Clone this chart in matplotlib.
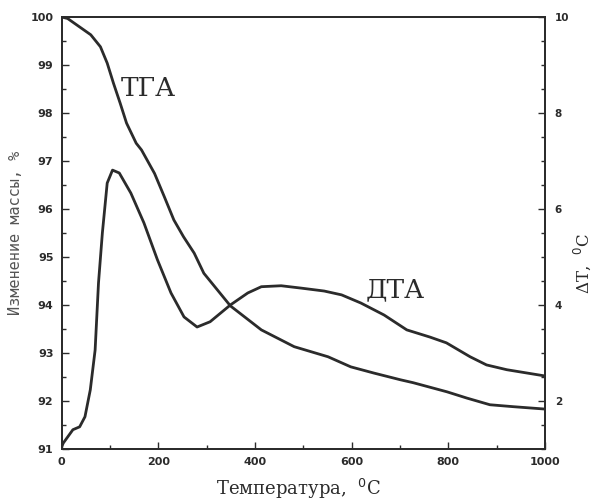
import matplotlib.pyplot as plt
from matplotlib.ticker import MultipleLocator

# TGA: mass change, %
tga_t = [0, 12, 36, 60, 80, 94, 107, 121, 134, 154, 165, 192, 212, 232, 252,
         274, 294, 349, 413, 481, 551, 598, 646, 701, 727, 797, 838, 886, 934,
         1000]
tga_m = [100.0, 99.97, 99.8, 99.63, 99.38, 99.04, 98.62, 98.2, 97.79, 97.37,
         97.23, 96.74, 96.26, 95.77, 95.42, 95.08, 94.66, 93.98, 93.48, 93.13,
         92.92, 92.71, 92.58, 92.44, 92.38, 92.19, 92.06, 91.92, 91.88, 91.83]

# DTA: delta T, deg C
dta_t = [0, 3, 23, 37, 48, 59, 69, 76, 84, 94, 105, 119, 143, 170, 198, 226,
         253, 280, 307, 349, 385, 413, 454, 496, 543, 579, 619, 667, 714, 762,
         796, 845, 879, 921, 1000]
dta_v = [1.05, 1.12, 1.40, 1.46, 1.67, 2.23, 3.06, 4.46, 5.5, 6.54, 6.81, 6.75,
         6.33, 5.71, 4.94, 4.25, 3.75, 3.54, 3.65, 4.0, 4.25, 4.38, 4.40, 4.35,
         4.29, 4.21, 4.04, 3.79, 3.48, 3.33, 3.21, 2.92, 2.75, 2.65, 2.52]

ink = '#2b2b2b'
serif = ['DejaVu Serif']
mono = ['DejaVu Sans Mono']

fig = plt.figure(figsize=(5.94, 5.01), dpi=100)
ax = fig.add_axes([0.104, 0.104, 0.8135, 0.862])
ax2 = ax.twinx()

ax.plot(tga_t, tga_m, color=ink, lw=2)
ax2.plot(dta_t, dta_v, color=ink, lw=2)

ax.set_xlim(0, 1000)
ax.set_ylim(91, 100)
ax2.set_ylim(1, 10)

ax.xaxis.set_major_locator(MultipleLocator(200))
ax.xaxis.set_minor_locator(MultipleLocator(100))
ax.yaxis.set_major_locator(MultipleLocator(1))
ax.yaxis.set_minor_locator(MultipleLocator(0.5))
ax2.yaxis.set_major_locator(MultipleLocator(2))
ax2.yaxis.set_minor_locator(MultipleLocator(0.5))

for a in (ax, ax2):
    for s in a.spines.values():
        s.set_linewidth(1.3)
        s.set_color(ink)
    a.tick_params(which='major', direction='in', length=5, width=1, colors=ink,
                  labelsize=8)
    a.tick_params(which='minor', direction='in', length=3, width=1, colors=ink)
ax.tick_params(axis='x', top=False, pad=6)
ax.tick_params(axis='y', right=False, pad=6)
ax2.tick_params(axis='y', pad=7, labelsize=7.5)
for lab in ax.get_xticklabels() + ax.get_yticklabels() + ax2.get_yticklabels():
    lab.set_fontweight('bold')

ax.set_ylabel('Изменение массы, %', fontsize=11, color='#555555',
              family=mono)
ax.yaxis.set_label_coords(-0.08, 0.5)
ax.set_xlabel('Температура,  $^{0}$C', fontsize=13, color=ink, family=serif)
ax.xaxis.set_label_coords(0.49, -0.064)
ax2.set_ylabel('ΔT,  $^{0}$C', fontsize=12, color=ink, family=serif,
               rotation=90)
ax2.yaxis.set_label_coords(1.056, 0.43)

ax.text(122, 98.35, 'ТГА', fontsize=19, color=ink, family=serif)
ax2.text(628, 4.17, 'ДТА', fontsize=19, color=ink, family=serif)

fig.savefig('out.png', dpi=100, facecolor='white')
